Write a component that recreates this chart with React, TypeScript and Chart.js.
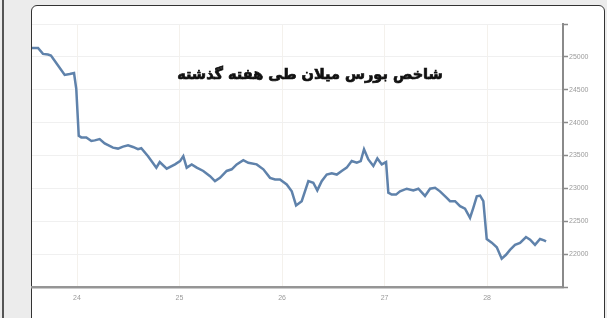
import React, { useEffect, useRef } from "react";
import { Chart, registerables } from "chart.js";

Chart.register(...registerables);

const titleText = "شاخص بورس میلان طی هفته گذشته";

const dayTicks = [24, 25, 26, 27, 28];
const dayLabels = ["24", "25", "26", "27", "28"];
const valueTicks = [21500, 22000, 22500, 23000, 23500, 24000, 24500, 25000, 25500];

const times = [
  23.561, 23.62, 23.668, 23.717, 23.746, 23.815, 23.88, 23.929, 23.971, 23.993,
  24.017, 24.042, 24.091, 24.14, 24.173, 24.221, 24.27, 24.351, 24.4, 24.449,
  24.498, 24.546, 24.595, 24.627, 24.693, 24.774, 24.807, 24.875, 24.956, 25.005,
  25.037, 25.07, 25.119, 25.168, 25.232, 25.298, 25.346, 25.395, 25.46, 25.509,
  25.558, 25.622, 25.671, 25.753, 25.818, 25.883, 25.932, 25.98, 26.046, 26.095,
  26.137, 26.192, 26.257, 26.305, 26.344, 26.387, 26.436, 26.485, 26.534, 26.582,
  26.631, 26.68, 26.729, 26.768, 26.8, 26.842, 26.891, 26.93, 26.973, 27.015,
  27.037, 27.07, 27.112, 27.151, 27.217, 27.281, 27.33, 27.363, 27.395, 27.444,
  27.493, 27.541, 27.607, 27.639, 27.688, 27.737, 27.785, 27.834, 27.866, 27.9,
  27.932, 27.964, 27.997, 28.046, 28.095, 28.143, 28.185, 28.224, 28.273, 28.322,
  28.38, 28.42, 28.468, 28.517, 28.556, 28.576,
];

const values = [
  25135, 25135, 25045, 25035, 25020, 24870, 24725, 24740, 24755, 24510,
  23800, 23775, 23775, 23720, 23730, 23750, 23685, 23620, 23605, 23635,
  23655, 23630, 23595, 23610, 23490, 23315, 23400, 23300, 23365, 23415,
  23490, 23315, 23365, 23315, 23265, 23185, 23110, 23160, 23265, 23290,
  23365, 23430, 23390, 23365, 23290, 23160, 23135, 23135, 23060, 22955,
  22740, 22805, 23110, 23085, 22970, 23110, 23210, 23230, 23210, 23265,
  23315, 23415, 23390, 23415, 23595, 23440, 23340, 23455, 23365, 23400,
  22935, 22905, 22905, 22955, 22995, 22970, 22995, 22940, 22885, 22995,
  23010, 22955, 22855, 22805, 22805, 22730, 22690, 22550, 22705, 22880,
  22890, 22805, 22230, 22175, 22105, 21930, 21990, 22065, 22140, 22170,
  22260, 22220, 22140, 22230, 22210, 22195,
];

export default function App() {
  const ref = useRef<HTMLCanvasElement | null>(null);

  useEffect(() => {
    if (!ref.current) return;
    const data = times.map((t, i) => ({ x: t, y: values[i] }));
    const chart = new Chart(ref.current, {
      type: "line",
      data: {
        datasets: [
          {
            data,
            borderColor: "#5f82ab",
            borderWidth: 2.5,
            pointRadius: 0,
            tension: 0,
            fill: false,
          },
        ],
      },
      options: {
        animation: false,
        responsive: false,
        devicePixelRatio: 1,
        layout: { padding: { left: 32, top: 24, right: 0, bottom: 0 } },
        plugins: { legend: { display: false }, tooltip: { enabled: false }, title: { display: false } },
        scales: {
          x: {
            type: "linear",
            min: 23.561,
            max: 28.741,
            afterBuildTicks: (s: any) => {
              s.ticks = dayTicks.map((v) => ({ value: v }));
            },
            afterFit: (s: any) => {
              s.height = 31;
            },
            ticks: {
              callback: (v: any) => {
                const i = dayTicks.indexOf(Number(v));
                return i >= 0 ? dayLabels[i] : "";
              },
              color: "#9a9a9a",
              font: { family: "Liberation Sans", size: 7 },
              padding: 7,
              maxRotation: 0,
            },
            grid: { color: "#f4f1ec", lineWidth: 1, drawTicks: false },
            border: { display: true, color: "#959595", width: 2.5 },
          },
          y: {
            type: "linear",
            position: "right",
            min: 21500,
            max: 25500,
            afterBuildTicks: (s: any) => {
              s.ticks = valueTicks.map((v) => ({ value: v }));
            },
            afterFit: (s: any) => {
              s.width = 44;
            },
            ticks: {
              callback: (v: any) => (v === 21500 || v === 25500 ? "" : String(v)),
              color: "#9a9a9a",
              font: { family: "Liberation Sans", size: 7 },
              padding: 1,
            },
            grid: { color: "#f0f0f0", lineWidth: 1, tickColor: "#8a8a8a", tickLength: 5, tickWidth: 1.5 },
            border: { display: true, color: "#8a8a8a", width: 2 },
          },
        },
      },
    });
    return () => chart.destroy();
  }, []);

  return (
    <div style={{ position: "fixed", left: 0, top: 0, width: 607, height: 318, background: "#ececec", overflow: "hidden" }}>
      <div style={{ position: "absolute", left: 2, top: 0, width: 2, height: 318, background: "#555" }} />
      <div
        style={{
          position: "absolute",
          left: 31,
          top: 5,
          width: 572,
          height: 330,
          background: "#ffffff",
          border: "1.5px solid #333",
          borderRadius: 6,
        }}
      />
      <canvas
        ref={ref}
        width={607}
        height={318}
        style={{ position: "absolute", left: 0, top: 0, width: 607, height: 318, display: "block" }}
      />
      <div
        dir="rtl"
        style={{
          position: "absolute",
          left: 150,
          top: 63,
          width: 320,
          textAlign: "center",
          fontFamily: "'DejaVu Sans'",
          fontWeight: "bold",
          fontSize: 14.5,
          color: "#111",
          lineHeight: "22px",
          whiteSpace: "nowrap",
          WebkitTextStroke: "0.7px #111",
        }}
      >
        {titleText}
      </div>
    </div>
  );
}
